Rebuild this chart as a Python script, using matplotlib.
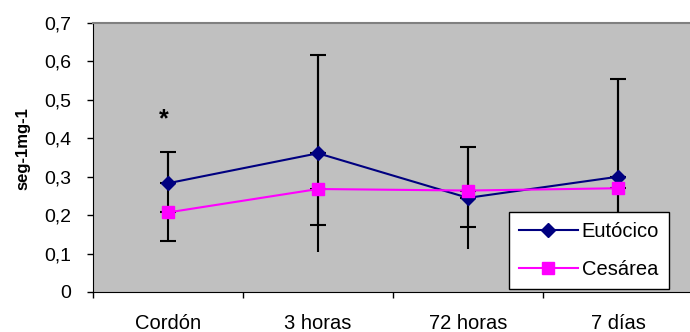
import matplotlib
matplotlib.use('Agg')
import matplotlib.pyplot as plt

plt.rcParams['font.family'] = ['Liberation Sans', 'DejaVu Sans']

categories = ['Cordón', '3 horas', '72 horas', '7 días']
eutocico = [0.283, 0.361, 0.245, 0.300]
eutocico_sd = [0.082, 0.256, 0.132, 0.253]
cesarea = [0.207, 0.268, 0.264, 0.270]
cesarea_sd = [0.074, 0.094, 0.096, 0.100]
y_ticks = [0, 0.1, 0.2, 0.3, 0.4, 0.5, 0.6, 0.7]
y_labels = ['0', '0,1', '0,2', '0,3', '0,4', '0,5', '0,6', '0,7']

fig = plt.figure(figsize=(6.9, 3.32), dpi=100)
ax = fig.add_axes([93 / 690, 40 / 332, 600 / 690, 269 / 332])
ax.set_facecolor('#C0C0C0')

x = list(range(len(categories)))

# Eutócico: full bar, cap only on top
ax.vlines(x, [m - s for m, s in zip(eutocico, eutocico_sd)],
          [m + s for m, s in zip(eutocico, eutocico_sd)], color='black', lw=1.5, zorder=2)
ax.errorbar(x, eutocico, yerr=[[0] * 4, eutocico_sd], fmt='none', ecolor='black',
            elinewidth=1.5, capsize=6, capthick=1.5, zorder=2)
# Cesárea: lower bar with cap
ax.errorbar(x, cesarea, yerr=[cesarea_sd, [0] * 4], fmt='none', ecolor='black',
            elinewidth=1.5, capsize=6, capthick=1.5, zorder=2)

ax.plot(x, eutocico, color='#000080', marker='D', markersize=7, lw=1.5,
        label='Eutócico', zorder=3)
ax.plot(x, cesarea, color='#FF00FF', marker='s', markersize=8, lw=1.5,
        label='Cesárea', zorder=3)

ax.text(-0.03, 0.45, '*', fontsize=18, fontweight='bold', ha='center', va='center')

ax.set_xlim(-0.5, 3.5)
ax.set_ylim(0, 0.7)
ax.set_yticks(y_ticks)
ax.set_yticklabels(y_labels, fontsize=14)
ax.set_xticks([-0.5, 0.5, 1.5, 2.5])
ax.set_xticklabels([])
ax.set_xticks(x, minor=True)
ax.set_xticklabels(categories, minor=True, fontsize=14.5)
ax.tick_params(axis='x', which='minor', length=0, pad=16)
ax.tick_params(axis='both', which='major', direction='out', length=4.5, width=1)
ax.tick_params(axis='y', which='major', pad=11)
ax.set_ylabel('seg-1mg-1', fontsize=12, fontweight='bold')
ax.yaxis.set_label_coords(-0.105, 0.533)

for side in ['left', 'bottom']:
    ax.spines[side].set_color('black')
for side in ['top', 'right']:
    ax.spines[side].set_color('#808080')
    ax.spines[side].set_linewidth(1.5)

leg = ax.legend(loc='lower right', bbox_to_anchor=(669 / 690, 43 / 332),
                bbox_transform=fig.transFigure, borderaxespad=0,
                fontsize=14.5, frameon=True, fancybox=False, edgecolor='black',
                framealpha=1, borderpad=0.5, handlelength=2.9, handletextpad=0.2,
                labelspacing=0.95)
leg.get_frame().set_linewidth(1)
leg.set_zorder(5)

fig.savefig('out.png', dpi=100)
